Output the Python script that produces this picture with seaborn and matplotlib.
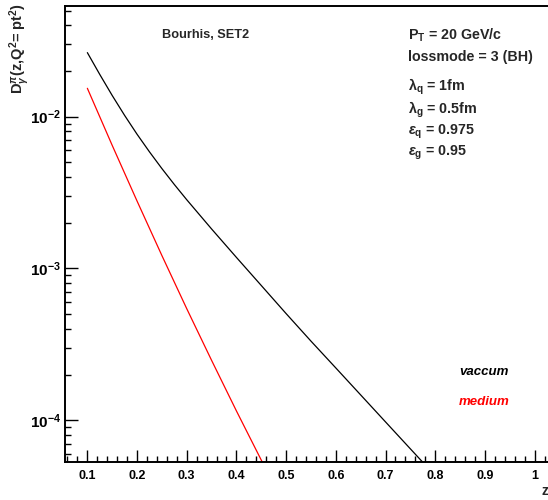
import numpy as np
import pandas as pd
import matplotlib
matplotlib.use("Agg")
import matplotlib.pyplot as plt
import seaborn as sns
from matplotlib.ticker import MultipleLocator, LogLocator, NullFormatter

# Fragmentation function D(z) sampled in z
z_vac = [0.100, 0.125, 0.150, 0.175, 0.200, 0.225, 0.250, 0.275, 0.300, 0.350,
         0.400, 0.450, 0.500, 0.550, 0.600, 0.650, 0.700, 0.750, 0.800]
d_vac = [0.02642, 0.01897, 0.01379, 0.01019, 0.00766, 0.005864, 0.004550, 0.003574, 0.002836, 0.001820,
         0.001182, 0.000772, 0.000504, 0.000332, 0.000221, 0.0001468, 9.75e-5, 6.48e-5, 4.31e-5]
z_med = [0.10, 0.15, 0.20, 0.25, 0.30, 0.35, 0.40, 0.45, 0.50]
d_med = [0.01538, 0.00647, 0.00278, 0.001216, 0.000543, 0.000248, 0.0001151, 5.46e-5, 2.64e-5]

x_ticks = [0.1, 0.2, 0.3, 0.4, 0.5, 0.6, 0.7, 0.8, 0.9, 1.0]
x_tick_labels = ["0.1", "0.2", "0.3", "0.4", "0.5", "0.6", "0.7", "0.8", "0.9", "1"]
y_ticks = [1e-4, 1e-3, 1e-2]
y_tick_labels = [r"$10^{-4}$", r"$10^{-3}$", r"$10^{-2}$"]

df = pd.concat([
    pd.DataFrame({"z": z_vac, "D": d_vac, "sample": "vaccum"}),
    pd.DataFrame({"z": z_med, "D": d_med, "sample": "medium"}),
])

sns.set_style("ticks")
plt.rcParams["font.family"] = ["Liberation Sans", "DejaVu Sans"]
plt.rcParams["font.weight"] = "bold"
plt.rcParams["mathtext.fontset"] = "custom"
plt.rcParams["mathtext.rm"] = "Liberation Sans:bold"
plt.rcParams["mathtext.it"] = "Liberation Sans:italic:bold"
plt.rcParams["mathtext.bf"] = "Liberation Sans:bold"

W, H = 548, 500
fig = plt.figure(figsize=(W / 100, H / 100), dpi=100)
left, right, top, bottom = 65, 548, 6, 461.7
ax = fig.add_axes([left / W, (H - bottom) / H, (right - left) / W, (bottom - top) / H])

sns.lineplot(data=df, x="z", y="D", hue="sample",
             palette={"vaccum": "black", "medium": "#ff0000"},
             linewidth=0.9, legend=False, ax=ax, sort=False)

ax.set_yscale("log")
ax.set_xlim(0.055, 1.027)
ax.set_ylim(5.33e-5, 0.0536)

ax.set_xticks(x_ticks, x_tick_labels)
ax.xaxis.set_minor_locator(MultipleLocator(0.02))
ax.set_yticks(y_ticks, y_tick_labels)
ax.yaxis.set_minor_locator(LogLocator(base=10, subs=np.arange(2, 10)))
ax.yaxis.set_minor_formatter(NullFormatter())

ax.tick_params(axis="both", which="both", direction="in", top=False, right=False, colors="black")
ax.tick_params(axis="both", which="major", length=9, width=1.0)
ax.tick_params(axis="both", which="minor", length=4.5, width=1.0)
ax.tick_params(axis="x", labelsize=9, pad=6)
ax.tick_params(axis="y", labelsize=11, pad=3)
for lbl in ax.get_xticklabels():
    lbl.set_fontweight("bold")

for s in ["left", "bottom", "top"]:
    ax.spines[s].set_linewidth(1.4)
    ax.spines[s].set_color("black")
ax.spines["right"].set_visible(False)

ax.set_xlabel("")
ax.set_ylabel("")

# axis titles
fig.text(20 / W, 1 - 3 / H, r"D$^{\pi}_{\gamma}$(z,Q$^{2}$= pt$^{2}$)", rotation=90,
         ha="center", va="top", fontsize=10.5, fontweight="bold")
fig.text(541.5 / W, 1 - 495 / H, "z", ha="left", va="baseline", fontsize=10, fontweight="bold")

# annotations
def ptext(px, py, s, fs=10.3, **kw):
    fig.text(px / W, 1 - py / H, s, ha="left", va="center", fontsize=fs,
             fontweight="bold", **kw)

ptext(162.5, 35, "Bourhis, SET2", fs=9.2)
ptext(408, 35, r"P$_{\mathrm{T}}$ = 20 GeV/c")
ptext(408, 57, "lossmode = 3 (BH)")
ptext(408, 87, r"λ$_{\mathrm{q}}$ = 1fm")
ptext(408, 110, r"λ$_{\mathrm{g}}$ = 0.5fm")
ptext(408, 132, r"$\varepsilon_{\mathrm{q}}$ = 0.975")
ptext(408, 153, r"$\varepsilon_{\mathrm{g}}$ = 0.95")
ptext(459, 372, "vaccum", fs=9.5, style="italic", color="black")
ptext(459, 402, "medium", fs=9.5, style="italic", color="#ff0000")

fig.savefig("out.png", dpi=100, facecolor="white")
